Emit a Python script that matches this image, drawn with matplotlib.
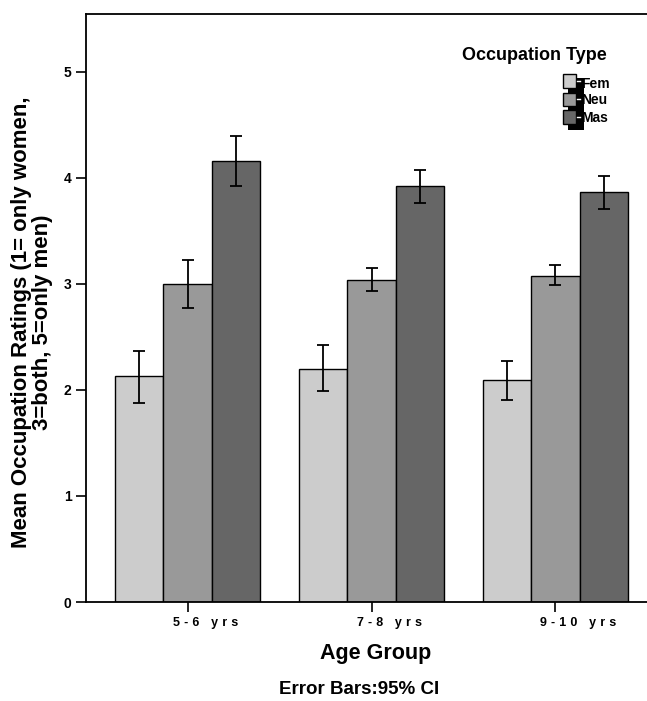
import numpy as np
import matplotlib
matplotlib.use("Agg")
import matplotlib.pyplot as plt
import matplotlib.transforms as mtransforms
from matplotlib.patches import Rectangle
from matplotlib.lines import Line2D

plt.rcParams['font.family'] = ['Liberation Sans', 'DejaVu Sans']
plt.rcParams['font.weight'] = 'bold'

age_groups = ["5-6 yrs", "7-8 yrs", "9-10 yrs"]
occ_types = ["Fem", "Neu", "Mas"]
colors = ["#cccccc", "#999999", "#666666"]

# means and 95% CI bounds
fem = [2.13, 2.20, 2.09]
neu = [3.00, 3.04, 3.08]
mas = [4.16, 3.92, 3.87]
fem_lo = [1.88, 1.99, 1.91]
fem_hi = [2.37, 2.42, 2.27]
neu_lo = [2.77, 2.93, 2.99]
neu_hi = [3.23, 3.15, 3.18]
mas_lo = [3.92, 3.76, 3.71]
mas_hi = [4.40, 4.08, 4.02]

means = [fem, neu, mas]
lows = [fem_lo, neu_lo, mas_lo]
highs = [fem_hi, neu_hi, mas_hi]

W, H = 647, 701
fig = plt.figure(figsize=(W / 100, H / 100), dpi=100)
ax = fig.add_axes([86 / W, 1 - 602 / H, 571 / W, 588 / H])

x = np.arange(len(age_groups))
bw = 0.264
for i in range(3):
    m = np.array(means[i])
    err = [m - np.array(lows[i]), np.array(highs[i]) - m]
    ax.bar(x + (i - 1) * bw, m, bw, color=colors[i], edgecolor="black",
           linewidth=1.0, zorder=2)
    ax.errorbar(x + (i - 1) * bw, m, yerr=err, fmt="none", ecolor="black",
                elinewidth=1.3, capsize=4.5, capthick=1.3, zorder=3)

ax.set_xlim(-0.552, 2.552)
ax.set_ylim(0, 5.547)
ax.set_yticks([0, 1, 2, 3, 4, 5])
ax.set_yticklabels(["0", "1", "2", "3", "4", "5"], fontsize=10, fontweight="bold")
ax.set_xticks(x)
# wide letter spacing like the original tick labels
spaced = ["\u2004".join(lbl) for lbl in age_groups]
ax.set_xticklabels(spaced, fontsize=9, fontweight="bold", ha="left")
ax.tick_params(axis="both", direction="out", length=7, width=1.2)
ax.tick_params(axis="x", pad=4)
shift = mtransforms.ScaledTranslation(-15 / 100, 0, fig.dpi_scale_trans)
for lbl in ax.get_xticklabels():
    lbl.set_transform(lbl.get_transform() + shift)
for s in ax.spines.values():
    s.set_linewidth(1.3)

ax.set_xlabel("Age Group", fontsize=15.5, fontweight="bold")
ax.xaxis.set_label_coords((376 - 86) / 571, -(654 - 602) / 588)
ax.xaxis.label.set_va("center")

fig.text(32 / W, 1 - 322 / H,
         "Mean Occupation Ratings (1= only women,\n3=both, 5=only men)",
         rotation=90, ha="center", va="center", fontsize=16,
         fontweight="bold", linespacing=0.95)

fig.text(359 / W, 1 - 690 / H, "Error Bars:95% CI", ha="center", va="center",
         fontsize=13.5, fontweight="bold")

# legend drawn by hand to mimic the original rendering
fig.text(534 / W, 1 - 55 / H, "Occupation Type", ha="center", va="center",
         fontsize=13, fontweight="bold")
fig.patches.append(Rectangle((568 / W, 1 - 130 / H), 16 / W, 52 / H,
                             transform=fig.transFigure, facecolor="black",
                             edgecolor="none", zorder=5))
box_tops = [74, 92.5, 110]
label_y = [83.5, 100.5, 118]
for i in range(3):
    fig.patches.append(Rectangle((562.5 / W, 1 - (box_tops[i] + 13.5) / H),
                                 13.5 / W, 13.5 / H, transform=fig.transFigure,
                                 facecolor=colors[i], edgecolor="black",
                                 linewidth=1.0, zorder=6))
    fig.lines.append(Line2D([577 / W, 580 / W],
                            [1 - (box_tops[i] + 6.5) / H] * 2,
                            transform=fig.transFigure, color="white",
                            linewidth=1.0, zorder=7))
    fig.text(581 / W, 1 - label_y[i] / H, occ_types[i], ha="left", va="center",
             fontsize=10, fontweight="bold", zorder=8)

fig.savefig("out.png", dpi=100)
